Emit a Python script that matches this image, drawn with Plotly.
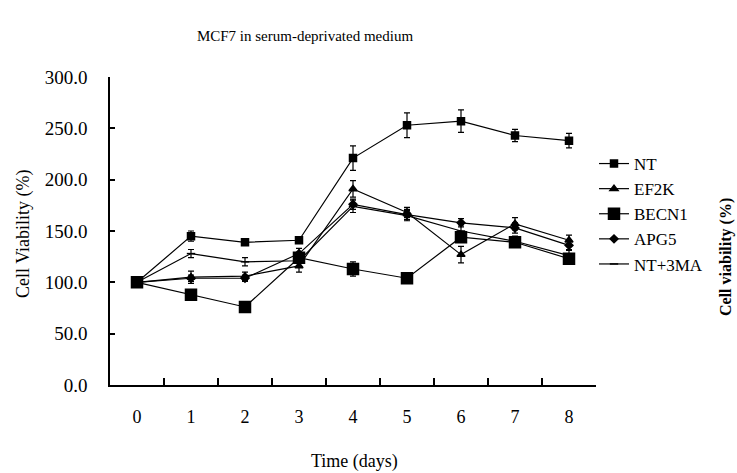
import plotly.graph_objects as go

days = [0, 1, 2, 3, 4, 5, 6, 7, 8]
day_labels = ["0", "1", "2", "3", "4", "5", "6", "7", "8"]

nt = [100, 145, 139, 141, 221, 253, 257, 243, 238]
nt_err = [4, 5, 3, 3, 12, 12, 11, 6, 7]
ef2k = [100, 105, 106, 116, 191, 168, 127, 157, 141]
ef2k_err = [5, 6, 4, 6, 8, 5, 8, 6, 5]
becn1 = [100, 88, 76, 124, 113, 104, 144, 139, 123]
becn1_err = [4, 3, 4, 5, 7, 4, 5, 4, 4]
apg5 = [100, 104, 104, 128, 176, 166, 158, 153, 136]
apg5_err = [4, 3, 3, 5, 5, 5, 4, 5, 4]
nt3ma = [100, 128, 120, 121, 174, 165, 150, 140, 126]
nt3ma_err = [4, 4, 4, 6, 6, 5, 6, 5, 5]

y_ticks = [0, 50, 100, 150, 200, 250, 300]

series = [
    ("NT", nt, nt_err, "square", 7),
    ("EF2K", ef2k, ef2k_err, "triangle-up", 7),
    ("BECN1", becn1, becn1_err, "square", 11),
    ("APG5", apg5, apg5_err, "diamond", 6),
    ("NT+3MA", nt3ma, nt3ma_err, "line-ew", 6),
]

FONT = "Liberation Serif, Times New Roman, serif"
FS = 18

L, R, T, B = 110, 141, 77, 88
W, H = 737, 473
PW, PH = W - L - R, H - T - B


def px_x(px):
    return (px - L) / PW


def px_y(py):
    return (H - B - py) / PH


fig = go.Figure()
for name, vals, err, sym, size in series:
    fig.add_trace(go.Scatter(
        x=days, y=vals, name=name, mode="lines+markers",
        line=dict(color="black", width=1.2),
        marker=dict(symbol=sym, size=size, color="black",
                    line=dict(color="black", width=1.5)),
        error_y=dict(type="data", array=err, visible=True,
                     color="black", thickness=1.2, width=3),
    ))

fig.update_layout(
    width=W, height=H,
    margin=dict(l=L, r=R, t=T, b=B, autoexpand=False),
    paper_bgcolor="white", plot_bgcolor="white",
    font=dict(family=FONT, color="black", size=FS),
    title=dict(text="MCF7 in serum-deprivated medium", x=305 / W, xanchor="center",
               y=1 - 36 / H, yanchor="middle", font=dict(family=FONT, size=15)),
    showlegend=True,
    legend=dict(x=px_x(594), xanchor="left", y=px_y(146), yanchor="top",
                font=dict(family=FONT, size=17), itemwidth=30,
                bgcolor="rgba(0,0,0,0)", tracegroupgap=0),
    xaxis=dict(
        range=[-0.5, 8.5], tickmode="array", tickvals=days, ticktext=day_labels,
        ticks="", showline=True, linecolor="black", linewidth=2,
        showgrid=False, zeroline=False, ticklabelstandoff=14, automargin=False,
        tickfont=dict(family=FONT, size=FS),
        minor=dict(tickvals=[d + 0.5 for d in days[:-1]], ticks="inside",
                   ticklen=7, tickcolor="black", tickwidth=1.5, showgrid=False),
    ),
    yaxis=dict(
        range=[0, 300], tickmode="array", tickvals=y_ticks,
        ticktext=[f"{v:.1f}" for v in y_ticks],
        ticks="inside", ticklen=5, tickcolor="black", tickwidth=1.5,
        showline=True, linecolor="black", linewidth=1.5,
        showgrid=False, zeroline=False, ticklabelstandoff=17, automargin=False,
        tickfont=dict(family=FONT, size=19),
    ),
)

fig.add_annotation(
    text="Time (days)", xref="paper", yref="paper",
    x=px_x(354), y=px_y(461), showarrow=False,
    xanchor="center", yanchor="middle", font=dict(family=FONT, size=FS),
)
fig.add_annotation(
    text="Cell Viability (%)", xref="paper", yref="paper",
    x=px_x(23), y=px_y(234), showarrow=False, textangle=-90,
    xanchor="center", yanchor="middle", font=dict(family=FONT, size=FS),
)
fig.add_annotation(
    text="<b>Cell viability (%)</b>", xref="paper", yref="paper",
    x=px_x(726), y=px_y(318), showarrow=False, textangle=-90,
    xanchor="center", yanchor="bottom", font=dict(family=FONT, size=16),
)

fig.write_html("out.html", config={"displayModeBar": False},
               post_script="document.body.style.margin='0';document.body.style.overflow='hidden';")
